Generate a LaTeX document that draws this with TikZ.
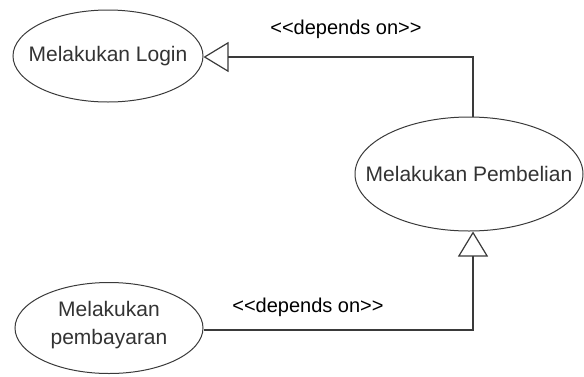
\documentclass[tikz,border=0pt]{standalone}
\usepackage{fontspec}
\setmainfont{Liberation Sans}
\usetikzlibrary{shapes.geometric,arrows.meta}
\definecolor{ink}{HTML}{3A3A3A}
\definecolor{txt}{HTML}{333333}
\begin{document}
\begin{tikzpicture}[x=1pt,y=-1pt,
  usecase/.style={ellipse, draw=ink, line width=1pt, inner sep=0pt},
  uctext/.style={text=txt, inner sep=0pt, align=center,
    font=\fontsize{21}{27.5}\selectfont},
  dep/.style={draw=ink, line width=1.4pt, -{Triangle[open, length=25pt, width=30pt, line width=1.2pt, fill=white]}},
  lbl/.style={text=black, font=\fontsize{20}{22}\selectfont, inner sep=0pt}]
\useasboundingbox (0,0) rectangle (584,376);
\node[usecase, minimum width=190pt, minimum height=92pt] (login) at (108,56) {};
\node[uctext] (loginT) at (login.center) {Melakukan Login};
\node[usecase, minimum width=228pt, minimum height=114pt] (pemb) at (469,174) {};
\node[uctext] (pembT) at (pemb.center) {Melakukan Pembelian};
\node[usecase, minimum width=188pt, minimum height=91pt] (bayar) at (109,328) {};
\node[uctext] (bayarT) at ([yshift=3pt]bayar.center) {Melakukan\\pembayaran};
\coordinate (c1) at (473,57);
\coordinate (c2) at (473,330);
\draw[dep] (pemb.north -| c1) -- (c1) -- (login.east |- c1);
\draw[dep] (bayar.east |- c2) -- (c2) -- (pemb.south -| c2);
\node[lbl] (l1) at (346,29) {<{}<depends on>{}>};
\node[lbl] (l2) at (308,307) {<{}<depends on>{}>};
\end{tikzpicture}
\end{document}
